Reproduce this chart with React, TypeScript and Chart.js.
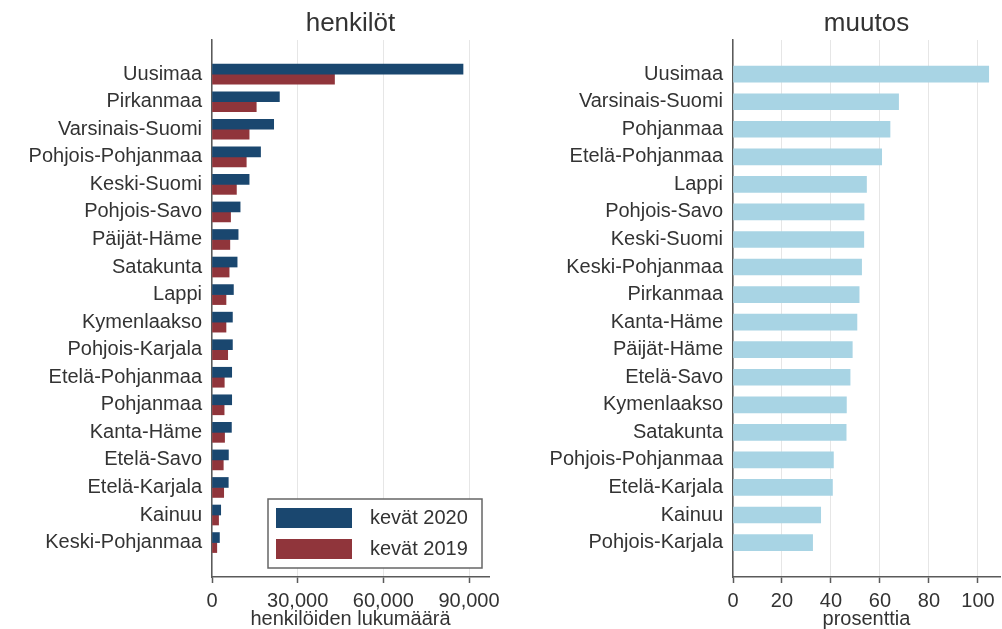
import React, { useEffect, useRef } from 'react';
import { Chart, registerables } from 'chart.js';

Chart.register(...registerables);

const FONT = "'Liberation Sans', Arial, Helvetica, sans-serif";
const TEXT = '#333333';
const AXIS = '#5a5a5a';
const GRID = '#e6e6e6';

// ---- Data: left panel (henkilöt) ----
const regionsLeft = [
  'Uusimaa', 'Pirkanmaa', 'Varsinais-Suomi', 'Pohjois-Pohjanmaa', 'Keski-Suomi',
  'Pohjois-Savo', 'Päijät-Häme', 'Satakunta', 'Lappi', 'Kymenlaakso',
  'Pohjois-Karjala', 'Etelä-Pohjanmaa', 'Pohjanmaa', 'Kanta-Häme', 'Etelä-Savo',
  'Etelä-Karjala', 'Kainuu', 'Keski-Pohjanmaa',
];
const spring2020 = [87900, 23600, 21600, 17000, 13000, 9850, 9150, 8800, 7500, 7150, 7150, 6900, 6900, 6800, 5750, 5700, 3050, 2600];
const spring2019 = [42900, 15500, 13000, 12000, 8550, 6500, 6250, 6000, 4900, 4900, 5500, 4300, 4250, 4400, 3950, 4100, 2300, 1680];
const leftTicks = [0, 30000, 60000, 90000];
const seriesLabels = ['kevät 2020', 'kevät 2019'];

// ---- Data: right panel (muutos) ----
const regionsRight = [
  'Uusimaa', 'Varsinais-Suomi', 'Pohjanmaa', 'Etelä-Pohjanmaa', 'Lappi',
  'Pohjois-Savo', 'Keski-Suomi', 'Keski-Pohjanmaa', 'Pirkanmaa', 'Kanta-Häme',
  'Päijät-Häme', 'Etelä-Savo', 'Kymenlaakso', 'Satakunta', 'Pohjois-Pohjanmaa',
  'Etelä-Karjala', 'Kainuu', 'Pohjois-Karjala',
];
const changePct = [104.4, 67.6, 64.1, 60.7, 54.5, 53.5, 53.4, 52.5, 51.5, 50.6, 48.7, 47.8, 46.3, 46.2, 41.0, 40.6, 35.8, 32.5];
const rightTicks = [0, 20, 40, 60, 80, 100];

const Y_PAD_TOP = 1.24;
const Y_PAD_BOTTOM = 1.25;

Chart.defaults.font.family = FONT;

function yScale(categories: string[], width: number) {
  return {
    type: 'linear',
    reverse: true,
    offset: false,
    min: -Y_PAD_TOP,
    max: categories.length - 1 + Y_PAD_BOTTOM,
    afterBuildTicks: (s: any) => {
      s.ticks = categories.map((_, i) => ({ value: i }));
    },
    afterFit: (s: any) => {
      s.width = width;
    },
    ticks: {
      autoSkip: false,
      color: TEXT,
      font: { size: 20 },
      padding: 10,
      callback: (v: any) => categories[v] ?? '',
    },
    grid: { display: false, drawTicks: false, offset: false },
    border: { color: AXIS, width: 1.5 },
  };
}

function xScale(ticks: number[], max: number, title: string, fmt: (v: number) => string) {
  return {
    type: 'linear',
    min: 0,
    max,
    afterBuildTicks: (s: any) => {
      s.ticks = ticks.map((v) => ({ value: v }));
    },
    afterFit: (s: any) => {
      s.height = 52;
    },
    ticks: {
      color: TEXT,
      font: { size: 20 },
      padding: 6,
      maxRotation: 0,
      callback: (v: any) => fmt(Number(v)),
    },
    grid: { color: GRID, lineWidth: 1, tickLength: 6, tickColor: AXIS, tickWidth: 1.5 },
    border: { color: AXIS, width: 1.5 },
    title: {
      display: true,
      text: title,
      color: TEXT,
      font: { size: 20, lineHeight: 1.0 },
      padding: { top: 0, bottom: 0 },
    },
  };
}

const legendPlugin = {
  id: 'boxLegend',
  afterDatasetsDraw(chart: any) {
    const { ctx, chartArea } = chart;
    const w = 214;
    const h = 69;
    const x0 = chartArea.right - 7 - w;
    const y0 = chartArea.bottom - 9 - h;
    ctx.save();
    ctx.fillStyle = '#ffffff';
    ctx.fillRect(x0, y0, w, h);
    ctx.strokeStyle = '#666666';
    ctx.lineWidth = 1.5;
    ctx.strokeRect(x0, y0, w, h);
    chart.data.datasets.forEach((ds: any, i: number) => {
      const sy = y0 + 9 + i * 31;
      ctx.fillStyle = ds.backgroundColor;
      ctx.fillRect(x0 + 8, sy, 76, 20);
      ctx.fillStyle = TEXT;
      ctx.font = `20px ${FONT}`;
      ctx.textBaseline = 'middle';
      ctx.textAlign = 'left';
      ctx.fillText(ds.label, x0 + 102, sy + 10.5);
    });
    ctx.restore();
  },
};

const titleOpts = (text: string) => ({
  display: true,
  text,
  color: TEXT,
  fullSize: false,
  font: { size: 26, weight: 'normal' as const, lineHeight: 1.1 },
  padding: { top: 10, bottom: 1.4 },
});

const leftConfig: any = {
  type: 'bar',
  data: {
    datasets: [
      {
        label: seriesLabels[0],
        data: spring2020.map((v, i) => ({ x: v, y: i })),
        backgroundColor: '#1a476f',
        barThickness: 10,
      },
      {
        label: seriesLabels[1],
        data: spring2019.map((v, i) => ({ x: v, y: i })),
        backgroundColor: '#90353b',
        barThickness: 10,
      },
    ],
  },
  options: {
    indexAxis: 'y',
    animation: false,
    responsive: false,
    layout: { padding: { left: 0, right: 41, top: 0, bottom: 0 } },
    scales: {
      x: xScale(leftTicks, 97000, 'henkilöiden lukumäärä', (v) => v.toLocaleString('en-US')),
      y: yScale(regionsLeft, 212),
    },
    plugins: {
      legend: { display: false },
      tooltip: { enabled: false },
      title: titleOpts('henkilöt'),
    },
  },
  plugins: [legendPlugin],
};

const rightConfig: any = {
  type: 'bar',
  data: {
    datasets: [
      {
        label: 'muutos',
        data: changePct.map((v, i) => ({ x: v, y: i })),
        backgroundColor: '#a8d4e4',
        barThickness: 16,
      },
    ],
  },
  options: {
    indexAxis: 'y',
    animation: false,
    responsive: false,
    layout: { padding: { left: 0, right: 2, top: 0, bottom: 0 } },
    scales: {
      x: xScale(rightTicks, 109, 'prosenttia', (v) => String(v)),
      y: yScale(regionsRight, 233),
    },
    plugins: {
      legend: { display: false },
      tooltip: { enabled: false },
      title: titleOpts('muutos'),
    },
  },
};

function ChartCanvas({ config, left, width, height }: { config: any; left: number; width: number; height: number }) {
  const ref = useRef<HTMLCanvasElement | null>(null);
  useEffect(() => {
    if (!ref.current) return;
    const chart = new Chart(ref.current, config);
    return () => chart.destroy();
  }, [config]);
  return (
    <canvas
      ref={ref}
      width={width}
      height={height}
      style={{ position: 'absolute', left, top: 0, width, height, display: 'block' }}
    />
  );
}

export default function App() {
  return (
    <div style={{ position: 'absolute', left: 0, top: 0, width: 1002, height: 629, background: '#ffffff', overflow: 'hidden' }}>
      <ChartCanvas config={leftConfig} left={0} width={530} height={629} />
      <ChartCanvas config={rightConfig} left={500} width={502} height={629} />
    </div>
  );
}
